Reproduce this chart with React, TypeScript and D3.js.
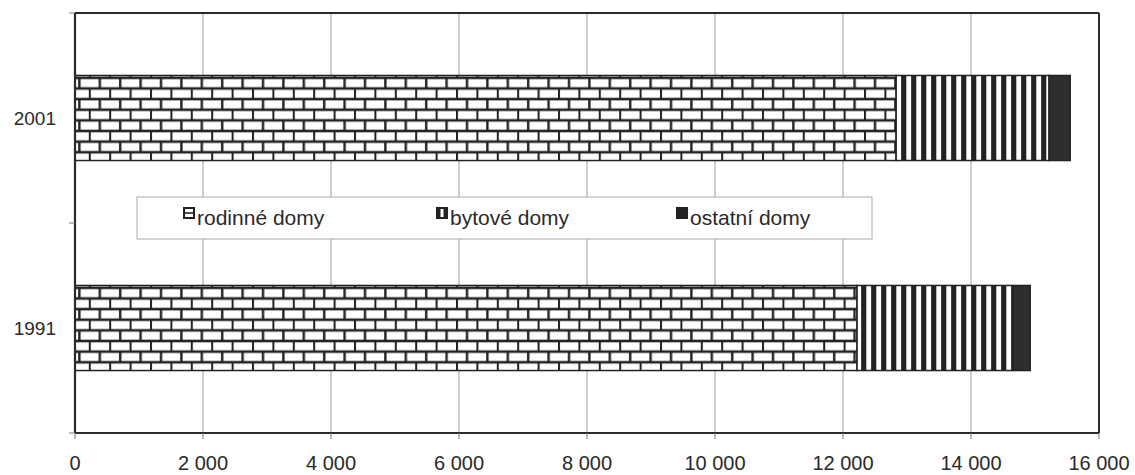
import React from "react";
import * as d3 from "d3";

const years = ["2001", "1991"];
const seriesKeys = ["rodinné domy", "bytové domy", "ostatní domy"];
const rodinne = [12830, 12220];
const bytove = [2390, 2440];
const ostatni = [330, 265];
const xTicks = [0, 2000, 4000, 6000, 8000, 10000, 12000, 14000, 16000];

const width = 1135;
const height = 475;
const margin = { top: 13, right: 36, bottom: 42, left: 75 };

const App: React.FC = () => {
  const chartW = width - margin.left - margin.right;
  const chartH = height - margin.top - margin.bottom;

  const x = d3.scaleLinear().domain([0, 16000]).range([0, chartW]);
  const y = d3
    .scaleBand()
    .domain(years)
    .range([0, chartH])
    .paddingInner(0.595)
    .paddingOuter(0.2975);

  const rows = years.map((year, i) => ({
    year,
    "rodinné domy": rodinne[i],
    "bytové domy": bytove[i],
    "ostatní domy": ostatni[i],
  }));
  const stacked = d3.stack<any>().keys(seriesKeys)(rows);

  const bw = y.bandwidth();
  const brickH = bw / 8;
  const fillFor = (key: string, year: string) =>
    key === "rodinné domy"
      ? `url(#brick-${year})`
      : key === "bytové domy"
      ? "url(#stripes)"
      : "#2e2e2e";

  const ink = "#2a2a2a";
  const font = "'Liberation Sans', Arial, sans-serif";

  // Category boundaries for left ticks
  const yBounds = [0, ...years.map((yr) => (y(yr) || 0) + bw + (y.step() * y.paddingInner()) / 2)];

  const legendItems = seriesKeys.map((k, i) => ({ key: k, x: [184, 437, 677][i] }));

  return (
    <svg
      width={width}
      height={height}
      style={{ position: "absolute", left: 0, top: 0, background: "#fff" }}
    >
      <defs>
        {years.map((yr) => (
          <pattern
            key={yr}
            id={`brick-${yr}`}
            patternUnits="userSpaceOnUse"
            x={margin.left}
            y={margin.top + (y(yr) || 0)}
            width={20.4}
            height={brickH * 2}
          >
            <rect width={20.4} height={brickH * 2} fill="#fff" />
            <line x1={0} x2={20.4} y1={0} y2={0} stroke="#222" strokeWidth={2.6} />
            <line x1={0} x2={20.4} y1={brickH} y2={brickH} stroke="#222" strokeWidth={2.6} />
            <line x1={0} x2={20.4} y1={brickH * 2} y2={brickH * 2} stroke="#222" strokeWidth={2.6} />
            <line x1={0.8} x2={0.8} y1={0} y2={brickH} stroke="#222" strokeWidth={2.4} />
            <line x1={11} x2={11} y1={brickH} y2={brickH * 2} stroke="#222" strokeWidth={2.4} />
          </pattern>
        ))}
        <pattern
          id="stripes"
          patternUnits="userSpaceOnUse"
          x={margin.left + x(rodinne[0])}
          y={0}
          width={10}
          height={10}
        >
          <rect width={10} height={10} fill="#fff" />
          <rect width={5.2} height={10} fill="#222" />
        </pattern>
      </defs>

      <g transform={`translate(${margin.left},${margin.top})`}>
        {/* gridlines */}
        {xTicks.slice(1, -1).map((t) => (
          <line key={t} x1={x(t)} x2={x(t)} y1={0} y2={chartH} stroke="#9a9a9a" strokeWidth={1} />
        ))}

        {/* frame */}
        <line x1={0} x2={chartW} y1={0} y2={0} stroke={ink} strokeWidth={2} />
        <line x1={chartW} x2={chartW} y1={0} y2={chartH} stroke={ink} strokeWidth={2} />

        {/* bars */}
        {stacked.map((s) =>
          s.map((d: any) => (
            <rect
              key={s.key + d.data.year}
              x={x(d[0])}
              y={y(d.data.year)}
              width={x(d[1]) - x(d[0])}
              height={bw}
              fill={fillFor(s.key, d.data.year)}
              stroke="#222"
              strokeWidth={1.5}
            />
          ))
        )}

        {/* axes */}
        <line x1={0} x2={chartW} y1={chartH} y2={chartH} stroke={ink} strokeWidth={2.2} />
        <line x1={0} x2={0} y1={0} y2={chartH} stroke={ink} strokeWidth={2.2} />
        {xTicks.map((t) => (
          <g key={t} transform={`translate(${x(t)},${chartH})`}>
            <line y1={0} y2={6} stroke="#777" strokeWidth={1} />
            <text
              y={37}
              textAnchor="middle"
              fontFamily={font}
              fontSize={20}
              fill={ink}
            >
              {d3.format(",")(t).replace(/,/g, " ")}
            </text>
          </g>
        ))}
        {yBounds.map((b, i) => (
          <line key={i} x1={-6} x2={0} y1={b} y2={b} stroke="#777" strokeWidth={1} />
        ))}
        {years.map((yr) => (
          <text
            key={yr}
            x={-19}
            y={(y(yr) || 0) + bw / 2}
            dy="0.36em"
            textAnchor="end"
            fontFamily={font}
            fontSize={19}
            fill={ink}
          >
            {yr}
          </text>
        ))}
      </g>

      {/* legend */}
      <g>
        <rect x={137} y={197} width={735} height={42} fill="#fff" stroke="#aaa" strokeWidth={1} />
        {legendItems.map((it) => (
          <g key={it.key} transform={`translate(${it.x},${208})`}>
            {it.key === "rodinné domy" && (
              <g>
                <rect width={10} height={10} fill="#fff" stroke="#222" strokeWidth={2} />
                <line x1={0} x2={10} y1={5} y2={5} stroke="#222" strokeWidth={1.6} />
              </g>
            )}
            {it.key === "bytové domy" && (
              <g>
                <rect width={10} height={10} fill="#222" stroke="#222" strokeWidth={2} />
                <rect x={3.5} y={1} width={3} height={8} fill="#fff" />
              </g>
            )}
            {it.key === "ostatní domy" && (
              <rect x={-1} y={-1} width={12} height={12} fill="#222" />
            )}
            <text x={13} y={17} fontFamily={font} fontSize={21} fill={ink}>
              {it.key}
            </text>
          </g>
        ))}
      </g>
    </svg>
  );
};

export default App;
